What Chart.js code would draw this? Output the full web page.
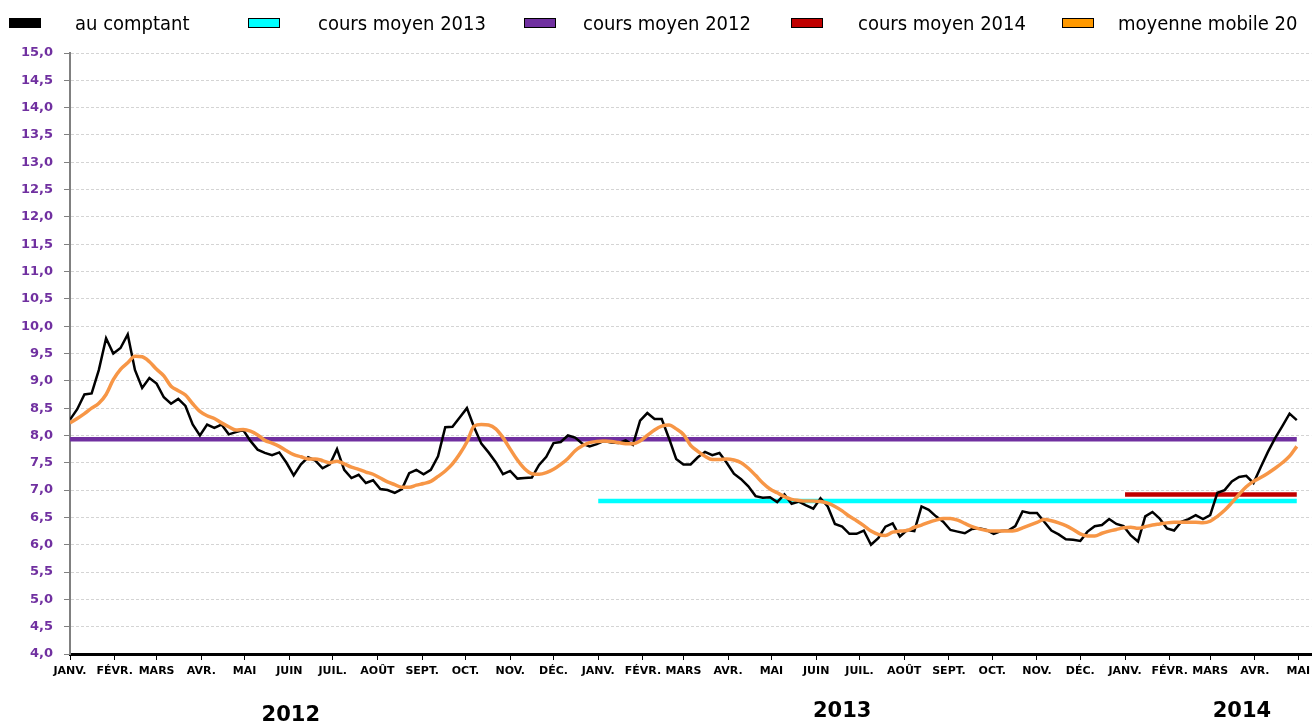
<!DOCTYPE html>
<html>
<head>
<meta charset="utf-8">
<script src="https://cdn.jsdelivr.net/npm/chart.js@4.4.1/dist/chart.umd.min.js"></script>
<style>
body { margin: 0; background: #fff; }
#wrap { position: relative; width: 1315px; height: 725px; }
#legend { position: absolute; left: 0; top: 0; width: 1315px; height: 45px;
  font-family: "DejaVu Sans Condensed", "DejaVu Sans", sans-serif; font-size: 20px; color: #000; }
#legend .box { position: absolute; top: 18px; width: 30px; height: 8px; border: 1px solid #000; }
#legend .txt { position: absolute; top: 11px; line-height: 24px; white-space: nowrap; }
</style>
</head>
<body>
<div id="wrap">
  <canvas id="chart"></canvas>
  <div id="legend"></div>
</div>
<script>
const monthLabels = ['JANV.', 'FÉVR.', 'MARS', 'AVR.', 'MAI', 'JUIN', 'JUIL.', 'AOÛT', 'SEPT.', 'OCT.', 'NOV.', 'DÉC.',
                     'JANV.', 'FÉVR.', 'MARS', 'AVR.', 'MAI', 'JUIN', 'JUIL.', 'AOÛT', 'SEPT.', 'OCT.', 'NOV.', 'DÉC.',
                     'JANV.', 'FÉVR.', 'MARS', 'AVR.', 'MAI'];
const yearLabels = ['2012', '2013', '2014'];
const yearLabelDates = ['2012-06-02', '2013-06-19', '2014-03-23'];

const startDate = '2012-01-01';
const stepDays = 5; // one reading every 5 days

// spot price ("au comptant")
const spot = [
  8.29, 8.48, 8.75, 8.77, 9.2, 9.78, 9.5, 9.6, 9.85, 9.2,
  8.87, 9.05, 8.95, 8.7, 8.58, 8.67, 8.54, 8.2, 8.0, 8.2,
  8.14, 8.2, 8.02, 8.06, 8.1, 7.9, 7.74, 7.68, 7.64, 7.69,
  7.5, 7.27, 7.47, 7.6, 7.54, 7.4, 7.47, 7.75, 7.37, 7.22,
  7.28, 7.13, 7.18, 7.02, 7.0, 6.95, 7.02, 7.31, 7.37, 7.29,
  7.37, 7.62, 8.15, 8.16, 8.33, 8.5, 8.15, 7.85, 7.69, 7.51,
  7.29, 7.35, 7.21, 7.22, 7.23, 7.46, 7.61, 7.86, 7.88, 8.0,
  7.96, 7.85, 7.8, 7.84, 7.9, 7.87, 7.86, 7.91, 7.83, 8.27,
  8.41, 8.3, 8.3, 7.95, 7.57, 7.47, 7.47, 7.6, 7.7, 7.64,
  7.68, 7.5, 7.3, 7.2, 7.07, 6.89, 6.86, 6.87, 6.78, 6.92,
  6.75, 6.79, 6.72, 6.66, 6.85, 6.7, 6.38, 6.33, 6.2, 6.2,
  6.26, 6.0, 6.12, 6.33, 6.39, 6.15, 6.27, 6.25, 6.7, 6.64,
  6.52, 6.42, 6.27, 6.24, 6.21, 6.29, 6.3, 6.27, 6.2, 6.25,
  6.26, 6.34, 6.61, 6.58, 6.58, 6.42, 6.26, 6.19, 6.1, 6.09,
  6.07, 6.24, 6.34, 6.36, 6.47, 6.38, 6.34, 6.17, 6.06, 6.52,
  6.6, 6.48, 6.3, 6.26, 6.42, 6.47, 6.54, 6.47, 6.54, 6.95,
  7.0, 7.16, 7.24, 7.26, 7.13, 7.42, 7.7, 7.95, 8.17, 8.4,
  8.28
];

// moyenne mobile 20
const ma20 = [
  8.23, 8.31, 8.4, 8.5, 8.59, 8.75, 9.02, 9.21, 9.33, 9.45,
  9.44, 9.35, 9.21, 9.09, 8.9, 8.82, 8.74, 8.58, 8.44, 8.36,
  8.31, 8.23, 8.16, 8.1, 8.11, 8.08, 8.01, 7.91, 7.86, 7.8,
  7.72, 7.65, 7.61, 7.57, 7.57, 7.54, 7.5, 7.53, 7.48, 7.42,
  7.38, 7.33, 7.29, 7.22, 7.15, 7.1, 7.05, 7.05, 7.09, 7.12,
  7.16, 7.25, 7.35, 7.48, 7.66, 7.88, 8.17, 8.2, 8.19, 8.12,
  7.96, 7.75, 7.55, 7.39, 7.3, 7.29, 7.32, 7.38, 7.47, 7.58,
  7.72, 7.81, 7.87, 7.89, 7.9, 7.89, 7.87, 7.85, 7.85, 7.9,
  8.0, 8.1, 8.17, 8.19, 8.12, 8.02, 7.82, 7.71, 7.62, 7.56,
  7.56, 7.57, 7.55, 7.5, 7.4, 7.27, 7.13, 7.02, 6.95, 6.88,
  6.83, 6.81, 6.8, 6.8, 6.79, 6.76, 6.7, 6.62, 6.52, 6.44,
  6.35, 6.25, 6.19, 6.17, 6.23, 6.25, 6.26, 6.32, 6.36, 6.41,
  6.45, 6.48, 6.48, 6.45, 6.39, 6.33, 6.29, 6.26, 6.25, 6.25,
  6.25, 6.26, 6.31, 6.36, 6.41, 6.46, 6.44, 6.4, 6.35, 6.28,
  6.2, 6.16, 6.16, 6.21, 6.25, 6.28, 6.31, 6.32, 6.3, 6.33,
  6.36, 6.38, 6.4, 6.41, 6.41, 6.41, 6.41, 6.4, 6.43, 6.52,
  6.63, 6.77, 6.92, 7.06, 7.16, 7.23, 7.31, 7.4, 7.5, 7.62,
  7.8
];

// yearly averages and the date each one starts from
const avgNames = ['cours moyen 2012', 'cours moyen 2013', 'cours moyen 2014'];
const avgValues = [7.93, 6.8, 6.92];
const avgStarts = ['2012-01-01', '2013-01-01', '2014-01-01'];

const dayOf = s => Math.round((Date.parse(s) - Date.parse(startDate)) / 86400000);
const lastDay = (spot.length - 1) * stepDays;
const monthStarts = monthLabels.map((m, i) => Math.round((Date.UTC(2012, i, 1) - Date.parse(startDate)) / 86400000));

const toPoints = arr => arr.map((v, i) => ({ x: i * stepDays, y: v }));
const avgColors = ['#7030A0', '#00FFFF', '#C00000'];

const datasets = [
  { label: 'moyenne mobile 20', data: toPoints(ma20), borderColor: '#F79646', borderWidth: 3.5,
    cubicInterpolationMode: 'monotone', order: 1 },
  { label: 'au comptant', data: toPoints(spot), borderColor: '#000000', borderWidth: 2.5, tension: 0, order: 2 }
];
avgNames.forEach((name, i) => {
  datasets.push({
    label: name,
    data: [{ x: dayOf(avgStarts[i]), y: avgValues[i] }, { x: lastDay, y: avgValues[i] }],
    borderColor: avgColors[i], borderWidth: 4.5, borderCapStyle: 'butt', order: 3 + i
  });
});

// legend (HTML, same order as the reference)
const legendItems = [
  { name: 'au comptant', fill: '#000000' },
  { name: 'cours moyen 2013', fill: '#00FFFF' },
  { name: 'cours moyen 2012', fill: '#7030A0' },
  { name: 'cours moyen 2014', fill: '#C00000' },
  { name: 'moyenne mobile 20', fill: '#FF9900' }
];
const legendBoxX = [9, 248, 524, 791, 1062];
const legendTextX = [75, 318, 583, 858, 1118];
const legend = document.getElementById('legend');
legendItems.forEach((it, i) => {
  const b = document.createElement('div');
  b.className = 'box';
  b.style.left = legendBoxX[i] + 'px';
  b.style.background = it.fill;
  legend.appendChild(b);
  const t = document.createElement('div');
  t.className = 'txt';
  t.style.left = legendTextX[i] + 'px';
  t.textContent = it.name;
  legend.appendChild(t);
});

const yearTitles = {
  id: 'yearTitles',
  afterDraw(chart) {
    const { ctx, scales: { x } } = chart;
    ctx.save();
    ctx.font = 'bold 21px "DejaVu Sans"';
    ctx.fillStyle = '#000';
    ctx.textAlign = 'center';
    ctx.textBaseline = 'middle';
    yearLabels.forEach((t, i) => {
      ctx.fillText(t, x.getPixelForValue(dayOf(yearLabelDates[i])), i === 0 ? 716 : 712);
    });
    ctx.restore();
  }
};

new Chart(document.getElementById('chart'), {
  type: 'line',
  data: { datasets: datasets },
  plugins: [yearTitles],
  options: {
    responsive: true,
    maintainAspectRatio: false,
    animation: false,
    layout: { padding: { top: 53, right: 0, left: 0, bottom: 0 } },
    elements: { point: { radius: 0 } },
    plugins: { legend: { display: false }, tooltip: { enabled: false } },
    scales: {
      x: {
        type: 'linear',
        min: 0,
        max: 860,
        afterFit: s => { s.height = 71; },
        afterBuildTicks: s => { s.ticks = monthStarts.map(v => ({ value: v })); },
        grid: { drawOnChartArea: false, drawTicks: true, tickLength: 6, color: '#000', tickColor: '#000' },
        border: { color: '#000', width: 3 },
        ticks: {
          autoSkip: false, maxRotation: 0, padding: 5, color: '#000',
          font: { family: 'DejaVu Sans', size: 11, weight: 'bold' },
          callback: (v, i) => monthLabels[i]
        }
      },
      y: {
        min: 4,
        max: 15,
        afterFit: s => { s.width = 70; },
        grid: {
          color: c => (c.tick && c.tick.value === 4) ? 'rgba(0,0,0,0)' : '#d4d4d4',
          lineWidth: 1, tickLength: 6, tickColor: '#808080', tickBorderDash: []
        },
        border: { color: '#808080', width: 2, dash: [3, 2] },
        ticks: {
          stepSize: 0.5, padding: 11, color: '#7030A0',
          font: { family: 'DejaVu Sans', size: 13, weight: 'bold' },
          callback: v => v.toFixed(1).replace('.', ',')
        }
      }
    }
  }
});
</script>
</body>
</html>
